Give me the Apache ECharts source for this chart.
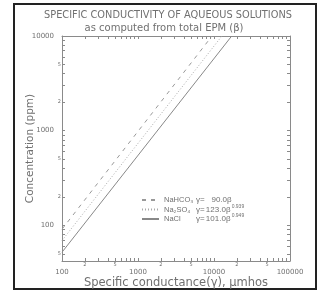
<!DOCTYPE html>
<html>
<head>
<meta charset="utf-8">
<script src="https://cdn.jsdelivr.net/npm/echarts@6/dist/echarts.min.js"></script>
<style>
html, body { margin: 0; padding: 0; background: #fff; }
#chart { width: 317px; height: 295px; }
</style>
</head>
<body>
<div id="chart"></div>
<script>
// end points of each line: conductance (umhos) -> concentration (ppm)
const nahco3Cond = [100, 9420]
const nahco3Ppm = [91, 10000]
const na2so4Cond = [100, 12700]
const na2so4Ppm = [69, 10000]
const naclCond = [100, 17100]
const naclPpm = [52, 10000]

// legend text
const seriesNames = ['NaHCO₃', 'Na₂SO₄', 'NaCl']
const coefs = ['90.0', '123.0', '101.0']
const exps = ['', '0.939', '0.949']

// axis ticks and labels
const xTicks = [100, 200, 300, 400, 500, 600, 700, 800, 900,
  1000, 2000, 3000, 4000, 5000, 6000, 7000, 8000, 9000,
  10000, 20000, 30000, 40000, 50000, 60000, 70000, 80000, 90000, 100000]
const xLabels = [100, 200, 500, 1000, 2000, 5000, 10000, 20000, 50000, 100000]
const yTicks = [50, 60, 70, 80, 90, 100, 200, 300, 400, 500, 600, 700, 800, 900,
  1000, 2000, 3000, 4000, 5000, 6000, 7000, 8000, 9000, 10000]
const yLabels = [50, 100, 200, 500, 1000, 2000, 5000, 10000]

const FONT = 'DejaVu Sans'
const LFONT = 'Liberation Sans'
const TXT = '#707070'
const AX = '#8a8a8a'

const isDecade = v => Math.abs(Math.log10(v) - Math.round(Math.log10(v))) < 1e-6
const tickLabel = v => isDecade(v) ? '{maj|' + Math.round(v) + '}' : '{min|' + String(Math.round(v))[0] + '}'

const chart = echarts.init(document.getElementById('chart'))

const baseX = {
  type: 'log', min: 100, max: 100000, gridIndex: 0,
  axisLine: { lineStyle: { color: AX, width: 1 } },
  axisTick: { inside: true, length: 3, customValues: xTicks, lineStyle: { color: AX } },
  splitLine: { show: false },
  minorTick: { show: false }
}
const baseY = {
  type: 'log', min: 42, max: 10000, gridIndex: 0,
  axisLine: { lineStyle: { color: AX, width: 1 } },
  axisTick: { inside: true, length: 3, customValues: yTicks, lineStyle: { color: AX } },
  splitLine: { show: false },
  minorTick: { show: false }
}

chart.setOption({
  backgroundColor: '#fff',
  animation: false,
  grid: { left: 62, right: 27, top: 36, bottom: 34 },
  graphic: [
    {
      type: 'rect', shape: { x: 14, y: 4, width: 302, height: 285 },
      style: { fill: 'none', stroke: '#222', lineWidth: 2 }, silent: true
    },
    {
      type: 'text', x: 168, y: 15,
      style: { text: 'SPECIFIC CONDUCTIVITY OF AQUEOUS SOLUTIONS', align: 'center', verticalAlign: 'middle',
        fill: TXT, font: '9.8px ' + FONT }
    },
    {
      type: 'text', x: 164, y: 28,
      style: { text: 'as computed from total EPM (β)', align: 'center', verticalAlign: 'middle',
        fill: TXT, font: '10px ' + FONT }
    }
  ],
  xAxis: [
    Object.assign({}, baseX, {
      position: 'bottom',
      name: 'Specific conductance(γ), µmhos',
      nameLocation: 'middle', nameGap: 16, nameMoveOverlap: false,
      nameTextStyle: { color: TXT, fontFamily: FONT, fontSize: 11.5 },
      axisLabel: {
        customValues: xLabels, margin: 1, color: TXT, fontFamily: FONT,
        formatter: tickLabel,
        rich: {
          maj: { fontSize: 7, color: TXT, fontFamily: FONT, padding: [7, 0, 0, 0] },
          min: { fontSize: 5, color: TXT, fontFamily: FONT }
        }
      }
    }),
    Object.assign({}, baseX, { position: 'top', axisLabel: { show: false } })
  ],
  yAxis: [
    Object.assign({}, baseY, {
      position: 'left',
      name: 'Concentration (ppm)',
      nameLocation: 'middle', nameGap: 26, nameMoveOverlap: false,
      nameTextStyle: { color: TXT, fontFamily: FONT, fontSize: 10.5 },
      axisLabel: {
        customValues: yLabels, margin: 1, color: TXT, fontFamily: FONT,
        formatter: tickLabel,
        rich: {
          maj: { fontSize: 7, color: TXT, fontFamily: FONT, padding: [0, 7, 0, 0] },
          min: { fontSize: 5, color: TXT, fontFamily: FONT }
        }
      }
    }),
    Object.assign({}, baseY, { position: 'right', axisLabel: { show: false } })
  ],
  legend: {
    orient: 'vertical',
    left: 141, top: 196,
    itemGap: 0,
    itemWidth: 17, itemHeight: 8,
    padding: 0,
    data: seriesNames,
    itemStyle: { opacity: 0 },
    formatter: function (name) {
      const i = seriesNames.indexOf(name)
      let s = '{n|' + name + '}{g|γ=}{c|' + coefs[i] + 'β}'
      if (exps[i]) s += '{e|' + exps[i] + '}'
      return s
    },
    textStyle: {
      color: TXT, fontFamily: LFONT, fontSize: 7.5,
      rich: {
        n: { width: 32, fontSize: 7.5, color: TXT, fontFamily: LFONT },
        g: { fontSize: 8, color: TXT, fontFamily: LFONT },
        c: { width: 27, align: 'right', fontSize: 8, color: TXT, fontFamily: LFONT },
        e: { fontSize: 5, color: TXT, fontFamily: LFONT, padding: [0, 0, 6, 0] }
      }
    }
  },
  series: [
    {
      name: seriesNames[0], type: 'line', showSymbol: false, symbol: 'none',
      data: nahco3Cond.map((c, i) => [c, nahco3Ppm[i]]),
      lineStyle: { color: '#999', width: 1, type: [4, 5] },
      itemStyle: { color: '#999' }
    },
    {
      name: seriesNames[1], type: 'line', showSymbol: false, symbol: 'none',
      data: na2so4Cond.map((c, i) => [c, na2so4Ppm[i]]),
      lineStyle: { color: '#aaa', width: 1, type: [1, 2] },
      itemStyle: { color: '#aaa' }
    },
    {
      name: seriesNames[2], type: 'line', showSymbol: false, symbol: 'none',
      data: naclCond.map((c, i) => [c, naclPpm[i]]),
      lineStyle: { color: '#888', width: 1 },
      itemStyle: { color: '#888' }
    }
  ]
})
</script>
</body>
</html>
